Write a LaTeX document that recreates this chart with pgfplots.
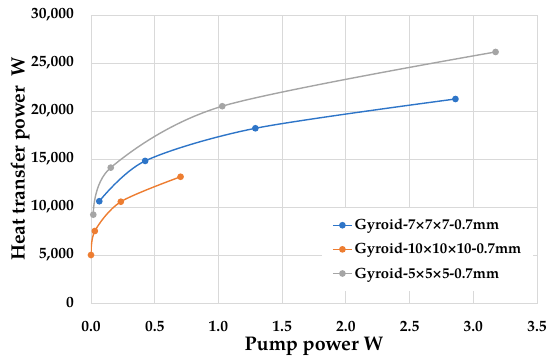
\documentclass[border=0pt]{standalone}
\usepackage{fontspec}
\setmainfont{TeX Gyre Pagella}
\usepackage{pgfplots}
\pgfplotsset{compat=1.18}
\definecolor{cblue}{HTML}{2E75C8}
\definecolor{corange}{HTML}{ED7D31}
\definecolor{cgray}{HTML}{A5A5A5}
\definecolor{gridc}{HTML}{D9D9D9}
\begin{document}
\begin{tikzpicture}[x=1bp,y=1bp]
\begin{axis}[
  at={(0,0)}, anchor=south west,
  scale only axis, width=446bp, height=288bp,
  xmin=0, xmax=3.5, ymin=0, ymax=30000,
  xtick={0,0.5,...,3.5}, ytick={0,5000,...,30000},
  grid=major, major grid style={gridc, line width=0.8bp},
  axis line style={gridc, line width=0.8bp},
  tick style={draw=none},
  /pgf/number format/assume math mode=true,
  /pgf/number format/1000 sep={,},
  xticklabel style={/pgf/number format/fixed, /pgf/number format/fixed zerofill, /pgf/number format/precision=1, font=\fontsize{15.5bp}{17bp}\selectfont\bfseries, anchor=north, inner sep=0pt, yshift=-18bp},
  yticklabel style={font=\fontsize{15.5bp}{17bp}\selectfont\bfseries, anchor=east, inner sep=0pt, xshift=-17bp},
  scaled y ticks=false,
  xlabel={Pump power W},
  ylabel={Heat transfer power\ \ W},
  xlabel style={font=\fontsize{19.7bp}{22bp}\selectfont\bfseries, at={(axis description cs:0.5,-0.152)}, anchor=center},
  ylabel style={font=\fontsize{19.3bp}{22bp}\selectfont\bfseries, at={(axis description cs:-0.159,0.5)}, anchor=center},
  legend cell align=left,
  legend style={at={(axis description cs:0.518,0.33)}, anchor=north west, draw=none, fill=white,
    font=\fontsize{14.8bp}{16bp}\selectfont\bfseries, row sep=8bp, inner xsep=10bp, inner ysep=9bp},
  legend image code/.code={\draw[mark repeat=2,mark phase=2,#1] plot coordinates {(0bp,0bp) (9.5bp,0bp) (19bp,0bp)};},
  every axis plot/.append style={line width=1.4bp, smooth, tension=0.5, mark=*, mark size=2.6bp, mark options={solid}},
]
\addplot[cblue, mark options={fill=cblue}] coordinates {(0.065,10600) (0.425,14800) (1.29,18200) (2.86,21250)};
\addlegendentry{Gyroid-7×7×7-0.7mm}
\addplot[corange, mark options={fill=corange}] coordinates {(0.0,5000) (0.03,7500) (0.234,10550) (0.703,13150)};
\addlegendentry{Gyroid-10×10×10-0.7mm}
\addplot[cgray, mark options={fill=cgray}] coordinates {(0.018,9200) (0.155,14100) (1.03,20500) (3.175,26150)};
\addlegendentry{Gyroid-5×5×5-0.7mm}
\end{axis}
\pgfresetboundingbox
\path (-91bp,-59bp) rectangle (459bp,303bp);
\end{tikzpicture}
\end{document}
